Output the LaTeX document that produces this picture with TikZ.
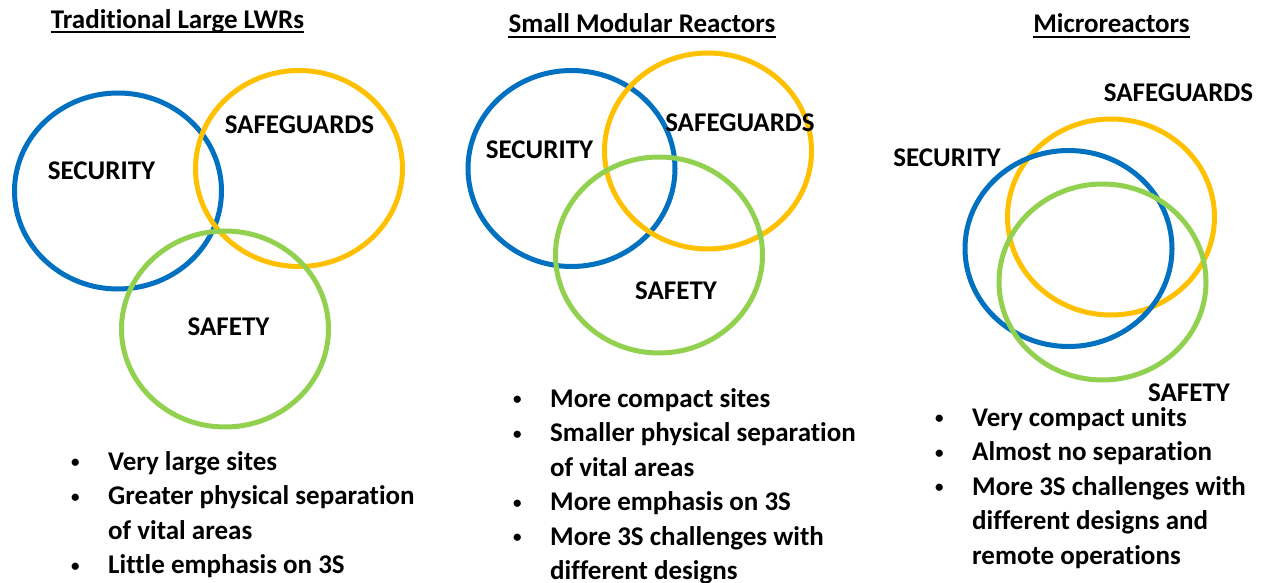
\documentclass[tikz,border=0pt]{standalone}
\usepackage{fontspec}
\setmainfont{Carlito}[Ligatures = NoCommon]
\usetikzlibrary{shapes.geometric}

\definecolor{secblue}{HTML}{0070C0}
\definecolor{sgyellow}{HTML}{FFC000}
\definecolor{sfgreen}{HTML}{92D050}

\newcommand{\itemdot}{\raisebox{2.5pt}{\fontsize{17}{17}\selectfont\textbullet}}

\begin{document}
\begin{tikzpicture}[x = 1pt, y = -1pt,
                    ring/.style = {ellipse, draw, line width = 5pt, inner sep = 0pt,
                                   minimum width = 207pt, minimum height = 196pt},
                    word/.style = {font = \fontsize{27}{30}\selectfont\bfseries, inner sep = 0pt},
                    heading/.style = {font = \fontsize{27}{30}\selectfont\bfseries, inner sep = 0pt, anchor = base},
                    points/.style = {font = \fontsize{27}{34.5}\selectfont\bfseries, inner sep = 0pt, anchor = base west}]
  \useasboundingbox (0, 0) rectangle (1264, 583);
  % titles
  \node [heading] (H1) at (177.5, 28.5) {Traditional Large LWRs};
  \node [heading] (H2) at (642, 33) {Small Modular Reactors};
  \node [heading] (H3) at (1111.5, 33) {Microreactors};
  \draw [line width = 2pt] ([yshift = -4pt]H1.base west) -- ([yshift = -4pt]H1.base east);
  \draw [line width = 2pt] ([yshift = -4pt]H2.base west) -- ([yshift = -4pt]H2.base east);
  \draw [line width = 2pt] ([yshift = -4pt]H3.base west) -- ([yshift = -4pt]H3.base east);
  % traditional large LWRs
  \node [ring, draw = secblue] (C1) at (118, 191) {};
  \node [ring, draw = sgyellow] (G1) at (299, 168.5) {};
  \node [ring, draw = sfgreen] (F1) at (225, 329) {};
  \node [word] (C1t) at (101.5, 170.5) {SECURITY};
  \node [word] (G1t) at (299.5, 124.5) {SAFEGUARDS};
  \node [word] (F1t) at (228.5, 327) {SAFETY};
  \node [points] (L1) at (71, 470) {\begin{tabular}[t]{@{}p{37pt}@{}l@{}}
    \itemdot & Very large sites\\
    \itemdot & Greater physical separation\\
             & of vital areas\\
    \itemdot & Little emphasis on 3S
  \end{tabular}};
  % small modular reactors
  \node [ring, draw = secblue] (C2) at (571.5, 168.5) {};
  \node [ring, draw = sgyellow] (G2) at (708, 151) {};
  \node [ring, draw = sfgreen] (F2) at (659, 255) {};
  \node [word] (C2t) at (539.5, 150) {SECURITY};
  \node [word] (G2t) at (740, 122.5) {SAFEGUARDS};
  \node [word] (F2t) at (676, 290.5) {SAFETY};
  \node [points] (L2) at (513, 407) {\begin{tabular}[t]{@{}p{37pt}@{}l@{}}
    \itemdot & More compact sites\\
    \itemdot & Smaller physical separation\\
             & of vital areas\\
    \itemdot & More emphasis on 3S\\
    \itemdot & More 3S challenges with\\
             & different designs
  \end{tabular}};
  % microreactors
  \node [ring, draw = sgyellow] (G3) at (1111, 217) {};
  \node [ring, draw = secblue] (C3) at (1068.5, 248.5) {};
  \node [ring, draw = sfgreen] (F3) at (1102.5, 282) {};
  \node [word] (G3t) at (1178.5, 93) {SAFEGUARDS};
  \node [word] (C3t) at (947, 158) {SECURITY};
  \node [word] (F3t) at (1189, 393) {SAFETY};
  \node [points] (L3) at (935, 426) {\begin{tabular}[t]{@{}p{37pt}@{}l@{}}
    \itemdot & Very compact units\\
    \itemdot & Almost no separation\\
    \itemdot & More 3S challenges with\\
             & different designs and\\
             & remote operations
  \end{tabular}};
\end{tikzpicture}
\end{document}
